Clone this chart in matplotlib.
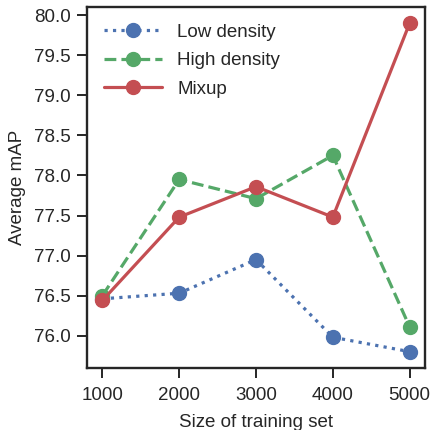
import matplotlib
matplotlib.use('Agg')
import matplotlib.pyplot as plt
import seaborn as sns

sizes = [1000, 2000, 3000, 4000, 5000]
low_density = [76.46, 76.53, 76.95, 75.98, 75.80]
high_density = [76.50, 77.95, 77.71, 78.25, 76.11]
mixup = [76.44, 77.48, 77.86, 77.48, 79.90]

sns.set_style('ticks')
plt.rcParams['font.family'] = ['Liberation Sans', 'DejaVu Sans']
plt.rcParams['axes.linewidth'] = 1.7
plt.rcParams['xtick.major.width'] = 1.4
plt.rcParams['ytick.major.width'] = 1.4
plt.rcParams['xtick.major.size'] = 7
plt.rcParams['ytick.major.size'] = 7

fig, ax = plt.subplots(figsize=(4.31, 4.30), dpi=100)
fig.subplots_adjust(left=0.202, right=0.986, bottom=0.144, top=0.984)

ax.plot(sizes, low_density, ':', marker='o', color='#4C72B0', lw=2.3, ms=10,
        label='Low density')
ax.plot(sizes, high_density, '--', marker='o', color='#55A868', lw=2.3, ms=10,
        label='High density')
ax.plot(sizes, mixup, '-', marker='o', color='#C44E52', lw=2.3, ms=10,
        label='Mixup')

ax.set_xticks(sizes)
ax.set_yticks([76.0, 76.5, 77.0, 77.5, 78.0, 78.5, 79.0, 79.5, 80.0])
ax.tick_params(labelsize=13.5, pad=4.5)
ax.tick_params(axis='x', pad=6.5)
ax.set_xlabel('Size of training set', fontsize=13.5, labelpad=7)
ax.set_ylabel('Average mAP', fontsize=13.5, labelpad=6)
ax.legend(loc='upper left', frameon=False, fontsize=13.5, handlelength=3.1,
          labelspacing=0.6)

fig.savefig('out.png', dpi=100)
